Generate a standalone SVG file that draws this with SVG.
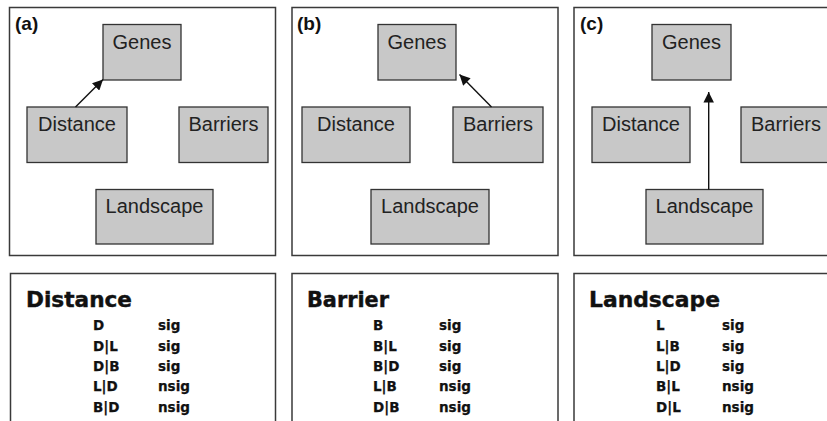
<svg xmlns="http://www.w3.org/2000/svg" width="827" height="421" viewBox="0 0 827 421">
<defs>
<style>
.panel{fill:#fff;stroke:#3a3a3a;stroke-width:1.5}
.node rect{fill:#c8c8c8;stroke:#333;stroke-width:1.3}
.node text{font-family:"Liberation Sans",Arial,sans-serif;font-size:20px;fill:#222;text-anchor:middle}
.plabel{font-family:"Liberation Sans",Arial,sans-serif;font-size:19px;font-weight:bold;fill:#111}
.head{font-family:"DejaVu Sans",sans-serif;font-size:20.5px;font-weight:bold;fill:#111;stroke:#111;stroke-width:0.4}
.row{font-family:"DejaVu Sans",sans-serif;font-size:13.5px;font-weight:bold;fill:#111;stroke:#111;stroke-width:0.25}
.conn line{stroke:#111;stroke-width:1.4;marker-end:url(#ah)}
</style>
<marker id="ah" viewBox="0 0 10 10" refX="10" refY="5" markerWidth="8" markerHeight="7.5" orient="auto" markerUnits="strokeWidth">
<path d="M0,0 L10,5 L0,10 z" fill="#111"/>
</marker>
</defs>

<g id="panel-a">
<rect class="panel" x="9.5" y="7.5" width="266" height="248"/>
<text class="plabel" x="15" y="30">(a)</text>
</g>
<g id="panel-b">
<rect class="panel" x="292" y="7.5" width="266" height="248"/>
<text class="plabel" x="297" y="30">(b)</text>
</g>
<g id="panel-c">
<rect class="panel" x="574" y="7.5" width="266" height="248"/>
<text class="plabel" x="580" y="30">(c)</text>
</g>

<g id="a-genes" class="node"><rect x="103" y="24.5" width="78" height="55.5"/><text x="142" y="49">Genes</text></g>
<g id="a-distance" class="node"><rect x="27" y="107" width="100" height="55.5"/><text x="77" y="131">Distance</text></g>
<g id="a-barriers" class="node"><rect x="179" y="107" width="89" height="55.5"/><text x="223.5" y="131">Barriers</text></g>
<g id="a-landscape" class="node"><rect x="96" y="189.5" width="117" height="54.5"/><text x="154.5" y="213">Landscape</text></g>

<g id="b-genes" class="node"><rect x="378" y="24.5" width="78" height="55.5"/><text x="417" y="49">Genes</text></g>
<g id="b-distance" class="node"><rect x="302" y="107" width="108" height="55.5"/><text x="356" y="131">Distance</text></g>
<g id="b-barriers" class="node"><rect x="453" y="107" width="90" height="55.5"/><text x="498" y="131">Barriers</text></g>
<g id="b-landscape" class="node"><rect x="371" y="189.5" width="118" height="54.5"/><text x="430" y="213">Landscape</text></g>

<g id="c-genes" class="node"><rect x="652" y="24.5" width="79" height="55.5"/><text x="691.5" y="49">Genes</text></g>
<g id="c-distance" class="node"><rect x="592" y="107" width="98" height="55.5"/><text x="641" y="131">Distance</text></g>
<g id="c-barriers" class="node"><rect x="741" y="107" width="90" height="55.5"/><text x="786" y="131">Barriers</text></g>
<g id="c-landscape" class="node"><rect x="646" y="189.5" width="117" height="54.5"/><text x="704.5" y="213">Landscape</text></g>

<g id="connectors" class="conn">
<line x1="75.5" y1="107" x2="103" y2="79.5"/>
<line x1="491.5" y1="107" x2="459.5" y2="74.5"/>
<line x1="708.7" y1="189.5" x2="708.7" y2="92"/>
</g>

<g id="table-distance">
<rect class="panel" x="10.5" y="273.5" width="265" height="160"/>
<text class="head" x="26" y="307" textLength="106" lengthAdjust="spacingAndGlyphs">Distance</text>
<text class="row" x="93" y="330">D</text><text class="row" x="158" y="330">sig</text>
<text class="row" x="93" y="350.5">D|L</text><text class="row" x="158" y="350.5">sig</text>
<text class="row" x="93" y="371">D|B</text><text class="row" x="158" y="371">sig</text>
<text class="row" x="93" y="391">L|D</text><text class="row" x="158" y="391">nsig</text>
<text class="row" x="93" y="411.5">B|D</text><text class="row" x="158" y="411.5">nsig</text>
</g>
<g id="table-barrier">
<rect class="panel" x="292" y="273.5" width="266" height="160"/>
<text class="head" x="307" y="307" textLength="82" lengthAdjust="spacingAndGlyphs">Barrier</text>
<text class="row" x="373" y="330">B</text><text class="row" x="439" y="330">sig</text>
<text class="row" x="373" y="350.5">B|L</text><text class="row" x="439" y="350.5">sig</text>
<text class="row" x="373" y="371">B|D</text><text class="row" x="439" y="371">sig</text>
<text class="row" x="373" y="391">L|B</text><text class="row" x="439" y="391">nsig</text>
<text class="row" x="373" y="411.5">D|B</text><text class="row" x="439" y="411.5">nsig</text>
</g>
<g id="table-landscape">
<rect class="panel" x="574" y="273.5" width="266" height="160"/>
<text class="head" x="589" y="307" textLength="131" lengthAdjust="spacingAndGlyphs">Landscape</text>
<text class="row" x="656" y="330">L</text><text class="row" x="722" y="330">sig</text>
<text class="row" x="656" y="350.5">L|B</text><text class="row" x="722" y="350.5">sig</text>
<text class="row" x="656" y="371">L|D</text><text class="row" x="722" y="371">sig</text>
<text class="row" x="656" y="391">B|L</text><text class="row" x="722" y="391">nsig</text>
<text class="row" x="656" y="411.5">D|L</text><text class="row" x="722" y="411.5">nsig</text>
</g>
</svg>
